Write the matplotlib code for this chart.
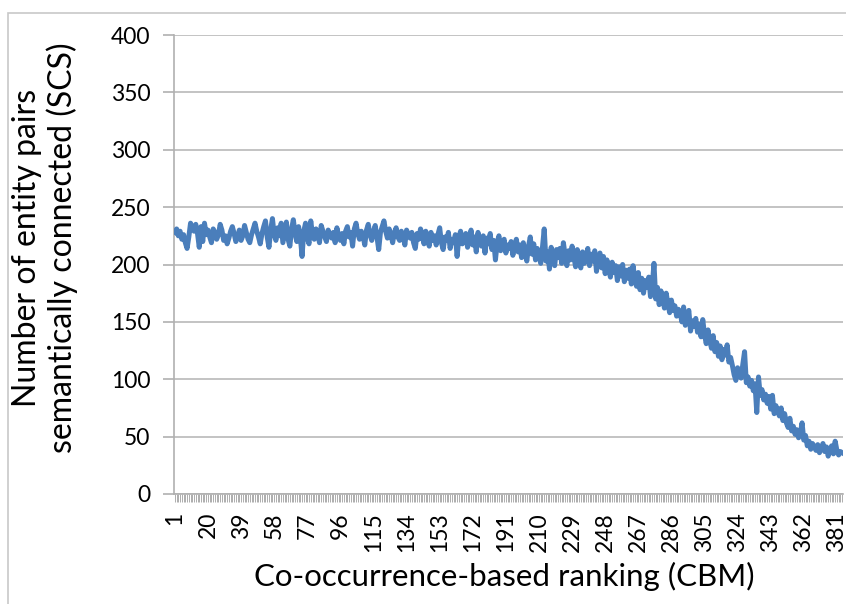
import numpy as np
import matplotlib.pyplot as plt
from matplotlib.patches import Rectangle

plt.rcParams['font.family'] = ['Lato', 'DejaVu Sans']

# values, one per rank
scs = [
    228, 231, 225, 229, 222, 226, 219, 214, 224, 236, 232, 229, 235, 227, 215, 233, 220, 236, 226, 230,
    224, 219, 231, 228, 222, 226, 235, 230, 221, 225, 218, 223, 229, 233, 227, 220, 224, 230, 221, 225,
    234, 228, 222, 219, 226, 231, 236, 229, 224, 218, 227, 233, 238, 224, 215, 230, 240, 226, 221, 232,
    225, 236, 219, 228, 237, 222, 216, 231, 239, 227, 220, 233, 224, 207, 229, 236, 223, 218, 238, 226,
    222, 231, 227, 219, 234, 229, 224, 220, 230, 226, 223, 228, 219, 232, 225, 221, 227, 218, 229, 233,
    224, 228, 216, 231, 236, 227, 222, 229, 225, 217, 230, 235, 226, 221, 229, 234, 224, 213, 228, 233,
    238, 229, 223, 231, 226, 219, 228, 232, 224, 221, 229, 225, 217, 230, 226, 223, 228, 219, 214, 227,
    222, 231, 226, 218, 229, 223, 216, 228, 221, 225, 217, 226, 232, 219, 213, 224, 221, 228, 214, 222,
    219, 226, 207, 224, 229, 218, 222, 227, 215, 221, 230, 217, 224, 211, 228, 220, 216, 225, 210, 223,
    218, 227, 213, 221, 204, 219, 225, 212, 218, 222, 210, 217, 214, 220, 208, 216, 222, 211, 217, 206,
    219, 211, 203, 216, 224, 209, 218, 204, 214, 208, 201, 215, 231, 203, 211, 196, 215, 205, 199, 213,
    206, 214, 201, 219, 208, 199, 212, 204, 216, 207, 198, 213, 203, 197, 211, 201, 206, 214, 199, 209,
    203, 212, 194, 205, 210, 197, 207, 192, 204, 196, 189, 202, 193, 199, 186, 198, 190, 200, 185, 195,
    188, 196, 183, 199, 187, 181, 193, 178, 188, 175, 186, 180, 189, 172, 181, 201, 170, 180, 165, 177,
    171, 162, 175, 166, 158, 169, 160, 164, 155, 161, 158, 150, 163, 147, 155, 160, 142, 151, 146, 153,
    141, 148, 137, 152, 139, 131, 143, 134, 127, 138, 124, 132, 120, 129, 117, 126, 121, 130, 115, 119,
    112, 104, 99, 110, 106, 101, 113, 124, 97, 102, 94, 99, 90, 96, 71, 102, 86, 91, 82, 87,
    79, 85, 74, 86, 70, 77, 72, 68, 75, 64, 70, 62, 58, 66, 55, 59, 52, 56, 49, 53,
    62, 47, 51, 42, 46, 39, 44, 41, 38, 43, 36, 40, 44, 37, 41, 33, 39, 42, 35, 46,
    38, 34, 37, 36,
]
ranks = np.arange(1, len(scs) + 1)
labelled = list(range(1, 382, 19))
y_ticks = [0, 50, 100, 150, 200, 250, 300, 350, 400]

fig = plt.figure(figsize=(8.46, 6.04), dpi=100)
# outer chart frame (cropped at right / bottom)
fig.patches.append(Rectangle((8 / 846, -0.1), 1.2, 1.1 - 13 / 604, transform=fig.transFigure,
                             fill=False, edgecolor='#c8c8c8', linewidth=1.2))

ax = fig.add_axes([174 / 846, 1 - 494 / 604, (843 - 174) / 846, (494 - 35) / 604])
ax.plot(ranks, scs, color='#4a7ebb', linewidth=3.6, solid_joinstyle='round', zorder=3)

ax.set_xlim(0.5, len(scs) + 0.5)
ax.set_ylim(0, 400)
ax.set_yticks(y_ticks)
ax.set_xticks(labelled)
ax.set_xticklabels([str(v) for v in labelled], rotation=90)
ax.set_xticks(ranks, minor=True)

ax.grid(axis='y', color='#bebebe', linewidth=1.3, zorder=0)
for s in ['top', 'right']:
    ax.spines[s].set_visible(False)
for s in ['left', 'bottom']:
    ax.spines[s].set_color('#b0b0b0')
    ax.spines[s].set_linewidth(1.2)

ax.tick_params(axis='y', length=8, width=1.2, color='#b0b0b0', pad=9, labelsize=16.5)
ax.tick_params(axis='x', which='both', length=6, width=0.6, color='#a0a0a0', pad=7, labelsize=16.5)

fig.text(504 / 846, 1 - 576 / 604, 'Co-occurrence-based ranking (CBM)', ha='center', va='center', fontsize=22.5)
fig.text(45 / 846, 1 - 248 / 604, 'Number of entity pairs\nsemantically connected (SCS)',
         ha='center', va='center', rotation=90, fontsize=23, linespacing=1.15)

fig.savefig('out.png', dpi=100)
